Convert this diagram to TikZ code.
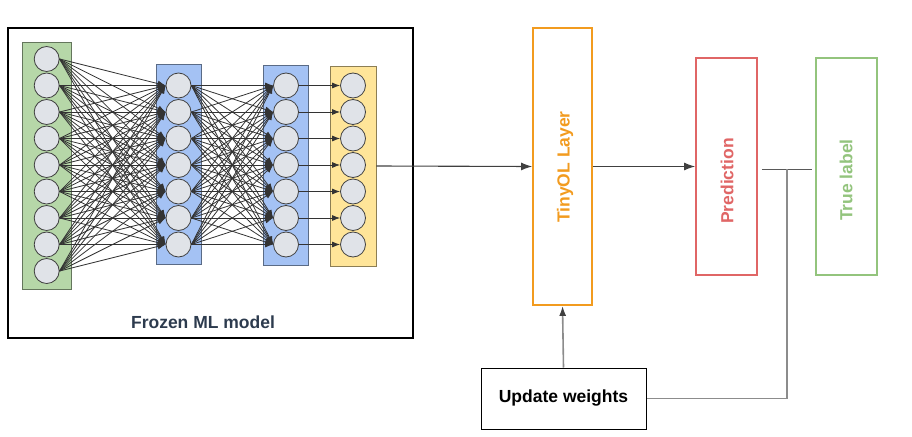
\documentclass[tikz,border=0pt]{standalone}
\usepackage{fontspec}
\setmainfont{Liberation Sans}
\usetikzlibrary{arrows.meta}
\definecolor{neurongray}{HTML}{E0E3E8}
\definecolor{inputgreen}{HTML}{B6D7A8}
\definecolor{hiddenblue}{HTML}{A4C2F4}
\definecolor{outyellow}{HTML}{FFE599}
\definecolor{tinyorange}{HTML}{F29B1F}
\definecolor{predred}{HTML}{E06666}
\definecolor{truegreen}{HTML}{93C47D}
\definecolor{slate}{HTML}{2D3B4E}
\begin{document}
\begin{tikzpicture}[x=1pt, y=-1pt, inner sep=0mm,
		neuron/.style={draw=black!75, circle, fill=neurongray, line width=0.8pt, minimum size=25pt},
		layerstyle/.style={draw=#1!55!black, fill=#1, line width=0.9pt, minimum width=46pt, minimum height=200pt},
		edgestyle/.style={black!80, line width=0.8pt, -{Latex[length=8pt,width=6pt]}},
		boxstyle/.style={draw=#1, line width=1.8pt, minimum width=61pt, minimum height=217pt},
		labelstyle/.style={font=\bfseries\fontsize{17.5}{20}\selectfont},
		flowarrow/.style={black!75, line width=1.1pt, -{Latex[length=11pt,width=8pt]}},
		feedline/.style={black!45, line width=1.6pt}]
		\useasboundingbox (0,0) rectangle (912,436);

		% frozen model
		\node [draw, line width=2.2pt, minimum width=405pt, minimum height=310pt] (frozen) at (210.5,183) {};
		\node [labelstyle, text=slate] (frozenlabel) at (203,322) {Frozen ML model};

		\node [layerstyle=inputgreen, minimum width=49pt, minimum height=247pt] (inlayer) at (46.5,165.5) {};
		\node [layerstyle=hiddenblue, minimum width=45pt] (hidlayera) at (178.5,164) {};
		\node [layerstyle=hiddenblue, minimum width=45pt] (hidlayerb) at (285.5,165.5) {};
		\node [layerstyle=outyellow] (outlayer) at (353,166) {};

		\foreach \i in {1,...,9}
			\node [neuron] (g\i) at (46.7,{165+(\i-5)*26.5}) {};
		\foreach \j in {1,...,7} {
			\node [neuron] (b\j) at (178.5,{165+(\j-4)*26.5}) {};
			\node [neuron] (c\j) at (286,{165+(\j-4)*26.5}) {};
			\node [neuron] (o\j) at (353,{165+(\j-4)*26.5}) {};
		}

		\foreach \i in {1,...,9}
			\foreach \j in {1,...,7}
				\draw [edgestyle] (g\i.east) -- (b\j.west);
		\foreach \i in {1,...,7}
			\foreach \j in {1,...,7}
				\draw [edgestyle] (b\i.east) -- (c\j.west);
		\foreach \i in {1,...,7}
			\draw [edgestyle] (c\i.east) -- (o\i.west);

		% on-device part
		\node [boxstyle=tinyorange, minimum width=59pt, minimum height=277pt] (tiny) at (562.5,166.5) {};
		\node [labelstyle, text=tinyorange, rotate=90] (tinytext) at (565,167) {TinyOL Layer};
		\node [boxstyle=predred] (pred) at (726.5,166.5) {};
		\node [labelstyle, text=predred, rotate=90] (predtext) at (727,181) {Prediction};
		\node [boxstyle=truegreen] (truel) at (846.5,166.5) {};
		\node [labelstyle, text=truegreen, rotate=90] (truetext) at (846,180) {True label};
		\node [draw, line width=1pt, minimum width=165pt, minimum height=61pt, labelstyle] (upd) at (563.5,398.5) {Update weights};

		\draw [flowarrow] (outlayer.east) -- (tiny.west);
		\draw [flowarrow] (tiny.east) -- (pred.west);
		\draw [black!65, line width=1.3pt, shorten <=4pt, shorten >=3pt] ([yshift=-3pt]pred.east) -- ([yshift=-3pt]truel.west);
		\coordinate (split) at (787,169);
		\draw [feedline] (split) |- (upd.east);
		\draw [feedline, -{Latex[length=10pt,width=7pt,color=black!75]}] (upd.north) -- (tiny.south);
\end{tikzpicture}
\end{document}
